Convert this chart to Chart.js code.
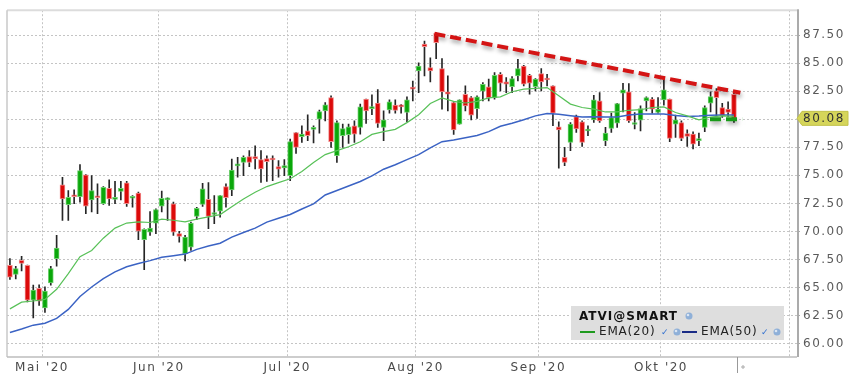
<!DOCTYPE html>
<html>
<head>
<meta charset="utf-8">
<script src="https://cdn.jsdelivr.net/npm/chart.js@4.4.1/dist/chart.umd.min.js"></script>
<style>
  html, body { margin: 0; padding: 0; background: #fff; }
</style>
</head>
<body>
<canvas id="chart" width="868" height="391"></canvas>
<script>
// ATVI@SMART daily candles, 23.04.2020 - 19.10.2020
var dates = [
  '2020-04-23','2020-04-24','2020-04-27','2020-04-28','2020-04-29','2020-04-30',
  '2020-05-01','2020-05-04','2020-05-05','2020-05-06','2020-05-07','2020-05-08','2020-05-11','2020-05-12',
  '2020-05-13','2020-05-14','2020-05-15','2020-05-18','2020-05-19','2020-05-20','2020-05-21','2020-05-22',
  '2020-05-26','2020-05-27','2020-05-28','2020-05-29',
  '2020-06-01','2020-06-02','2020-06-03','2020-06-04','2020-06-05','2020-06-08','2020-06-09','2020-06-10',
  '2020-06-11','2020-06-12','2020-06-15','2020-06-16','2020-06-17','2020-06-18','2020-06-19','2020-06-22',
  '2020-06-23','2020-06-24','2020-06-25','2020-06-26','2020-06-29','2020-06-30',
  '2020-07-01','2020-07-02','2020-07-06','2020-07-07','2020-07-08','2020-07-09','2020-07-10','2020-07-13',
  '2020-07-14','2020-07-15','2020-07-16','2020-07-17','2020-07-20','2020-07-21','2020-07-22','2020-07-23',
  '2020-07-24','2020-07-27','2020-07-28','2020-07-29','2020-07-30','2020-07-31',
  '2020-08-03','2020-08-04','2020-08-05','2020-08-06','2020-08-07','2020-08-10','2020-08-11','2020-08-12',
  '2020-08-13','2020-08-14','2020-08-17','2020-08-18','2020-08-19','2020-08-20','2020-08-21','2020-08-24',
  '2020-08-25','2020-08-26','2020-08-27','2020-08-28','2020-08-31',
  '2020-09-01','2020-09-02','2020-09-03','2020-09-04','2020-09-08','2020-09-09','2020-09-10','2020-09-11',
  '2020-09-14','2020-09-15','2020-09-16','2020-09-17','2020-09-18','2020-09-21','2020-09-22','2020-09-23',
  '2020-09-24','2020-09-25','2020-09-28','2020-09-29','2020-09-30',
  '2020-10-01','2020-10-02','2020-10-05','2020-10-06','2020-10-07','2020-10-08','2020-10-09','2020-10-12',
  '2020-10-13','2020-10-14','2020-10-15','2020-10-16','2020-10-19'
];

var open = [
  66.98,66.16,67.43,66.98,63.88,64.92,63.19,65.41,67.58,74.15,72.38,73.26,73.11,75.04,72.82,73.14,
  72.47,73.85,72.85,73.56,74.33,72.96,73.41,69.27,69.94,70.74,72.25,72.82,72.47,69.80,68.02,68.61,
  71.34,72.40,72.87,71.51,71.81,74.00,73.71,75.84,76.16,76.67,76.67,76.40,76.49,76.55,75.78,75.66,
  74.98,78.82,78.44,78.97,79.09,80.01,80.75,81.93,76.75,78.53,78.62,79.42,79.27,81.79,80.95,81.45,
  79.27,80.84,81.26,81.26,80.60,82.82,84.30,86.70,84.60,87.65,84.51,82.44,81.49,79.57,82.23,81.93,
  80.95,82.50,82.88,81.93,84.01,83.33,82.91,83.86,84.75,83.92,82.91,84.07,83.65,82.97,79.33,76.60,
  77.94,80.24,79.77,78.95,79.95,81.64,78.09,79.18,79.66,82.32,82.44,79.53,79.92,81.64,81.79,80.60,
  81.73,81.79,79.57,79.71,78.73,78.68,78.09,79.27,81.43,82.53,81.04,80.90,82.23
];
var high = [
  67.58,66.90,67.78,67.00,65.21,65.24,65.06,66.90,69.65,74.83,73.65,73.71,75.95,75.07,74.98,74.24,
  74.00,74.59,74.47,74.47,74.47,73.20,73.50,70.24,71.78,72.02,73.59,73.00,72.61,70.00,69.65,70.83,
  72.16,74.29,74.36,73.20,73.20,74.24,76.46,76.60,76.75,77.20,77.64,77.20,76.75,76.75,76.31,76.40,
  78.24,78.82,79.42,80.40,79.42,80.81,81.49,82.08,79.86,79.57,79.57,79.86,81.35,81.80,82.17,82.65,
  80.75,81.73,81.73,81.30,81.99,83.41,85.04,86.97,85.48,87.70,85.40,83.86,81.55,81.73,82.97,82.02,
  82.08,83.26,83.57,84.15,84.15,83.71,83.80,85.34,84.80,84.01,83.62,84.51,84.01,82.97,79.77,77.49,
  79.71,80.37,79.86,79.42,82.14,82.38,79.27,80.55,81.43,83.21,83.18,80.60,81.19,81.99,81.93,81.93,
  83.57,81.79,80.37,79.86,79.06,78.89,78.77,81.19,82.44,82.73,81.43,81.55,82.38
];
var low = [
  65.72,65.77,66.48,63.73,62.30,63.41,62.78,65.21,66.90,70.98,70.98,72.47,72.61,71.58,71.73,71.58,
  72.40,72.31,72.47,72.82,72.22,72.16,69.27,66.60,69.65,69.80,71.73,70.98,69.65,69.05,67.37,68.32,
  71.04,72.22,70.24,70.69,71.28,72.16,73.20,74.83,74.98,75.78,75.57,74.38,74.45,74.53,74.83,74.98,
  74.53,76.96,77.94,78.09,77.88,78.77,79.86,77.49,76.16,77.49,77.85,77.94,78.68,79.62,80.40,79.27,
  78.09,80.55,80.55,80.55,79.77,81.64,82.38,83.86,83.33,85.40,80.90,80.75,78.65,79.57,80.75,79.95,
  80.07,81.64,81.64,81.79,82.53,82.38,82.38,83.41,82.97,82.23,82.53,82.53,82.97,79.42,75.63,75.87,
  77.20,78.82,77.58,78.53,79.71,79.71,77.64,78.82,79.27,80.66,79.71,79.13,78.97,80.75,80.55,80.55,
  81.26,78.00,78.38,78.09,77.58,77.35,77.64,78.89,80.66,80.24,80.16,80.24,79.71
];
var close = [
  65.92,66.69,67.14,63.88,64.77,63.79,64.68,66.69,68.52,72.91,73.05,73.09,75.42,72.25,73.65,73.00,
  73.94,72.91,73.05,73.85,72.47,73.11,70.03,70.18,70.30,71.96,72.96,72.96,69.94,69.56,69.50,70.74,
  72.07,73.80,71.34,71.69,73.20,73.00,75.48,75.95,76.60,76.16,76.46,75.57,76.22,76.37,75.54,75.87,
  78.00,77.49,78.68,78.53,79.27,80.69,81.28,78.00,79.71,79.18,79.33,78.68,81.11,80.75,81.11,79.62,
  79.95,81.55,80.78,81.11,81.73,82.68,84.75,86.46,84.30,86.82,82.44,82.23,79.06,81.73,81.19,80.37,
  81.99,83.12,81.93,83.92,83.21,83.12,83.62,84.51,83.12,83.21,83.57,83.33,83.50,80.55,79.06,76.16,
  79.57,79.13,77.94,79.06,81.73,79.86,78.77,80.16,81.40,82.62,79.86,79.71,80.95,81.93,80.90,80.90,
  82.62,78.29,79.95,78.29,78.47,77.79,78.24,81.04,82.02,81.93,80.31,80.60,80.08
];

// indicator lines, read every 2nd session (session 0, 2, 4, ...)
var emaStep = 2;
var ema20 = [
  63.10,63.70,63.80,63.95,64.85,66.25,67.75,68.30,69.40,70.30,70.75,70.85,70.80,71.10,71.00,70.85,
  71.10,71.30,71.50,72.20,72.90,73.50,74.00,74.35,74.70,75.35,76.15,76.85,77.20,77.55,78.00,78.65,
  78.90,79.10,79.70,80.40,81.40,81.90,81.60,81.45,81.60,81.90,82.00,82.45,82.68,82.75,82.82,82.10,
  81.35,81.05,80.90,80.65,80.65,80.80,80.85,81.05,81.10,80.60,80.30,79.95,80.20,80.30,80.25
];
var ema50 = [
  61.00,61.30,61.65,61.82,62.25,63.05,64.20,65.05,65.80,66.40,66.85,67.14,67.40,67.70,67.83,67.98,
  68.40,68.70,68.95,69.50,69.90,70.30,70.83,71.17,71.51,72.00,72.46,73.25,73.65,74.05,74.45,74.95,
  75.55,75.95,76.40,76.85,77.45,78.00,78.15,78.35,78.55,78.90,79.38,79.65,79.95,80.30,80.52,80.45,
  80.32,80.20,80.22,80.20,80.20,80.38,80.46,80.46,80.46,80.33,80.25,80.28,80.35,80.37,80.37
];

// drawn trend lines: [session, price]
var trendRed = [[72.7, 87.62], [125.1, 82.37]];
var trendGreen = [[119.9, 80.0], [125.4, 80.0]];

// axis ticks
var monthTicks = [5.5, 25.5, 47.5, 69.5, 90.5, 111.5, 133.5];
var monthLabels = ["Mai '20", "Jun '20", "Jul '20", "Aug '20", "Sep '20", "Okt '20", ""];
var priceTicks = [60, 62.5, 65, 67.5, 70, 72.5, 75, 77.5, 80, 82.5, 85, 87.5];

var upColor = '#0aa70a', downColor = '#dc0a0a';
var upBorder = '#6fd06f', downBorder = '#f08a8a';

var wicks = dates.map(function (d, i) { return { x: i, y: [low[i], high[i]] }; });
var bodies = dates.map(function (d, i) { return { x: i, y: [open[i], close[i]] }; });
var bodyFill = dates.map(function (d, i) { return close[i] >= open[i] ? upColor : downColor; });
var bodyEdge = dates.map(function (d, i) { return close[i] >= open[i] ? upBorder : downBorder; });

Chart.defaults.font.family = "'DejaVu Sans', sans-serif";
Chart.defaults.font.size = 12;
Chart.defaults.color = '#5a5a5a';

// shadow under the hand drawn trend lines
var shadowPlugin = {
  id: 'shadow',
  beforeDatasetDraw: function (chart, args) {
    var ctx = chart.ctx;
    ctx.save();
    if (chart.data.datasets[args.index].shadow) {
      ctx.shadowColor = 'rgba(0,0,0,0.35)';
      ctx.shadowBlur = 4;
      ctx.shadowOffsetX = 1;
      ctx.shadowOffsetY = 3;
    }
  },
  afterDatasetDraw: function (chart) {
    chart.ctx.restore();
  }
};

var framePlugin = {
  id: 'frame',
  beforeDraw: function (chart) {
    chart.ctx.letterSpacing = '1.5px';
  },
  beforeDatasetsDraw: function (chart) {
    var ctx = chart.ctx, a = chart.chartArea;
    ctx.save();
    ctx.lineWidth = 2;
    ctx.strokeStyle = '#dcdcdc';
    ctx.beginPath(); ctx.moveTo(a.left, a.top); ctx.lineTo(a.right, a.top); ctx.stroke();
    ctx.lineWidth = 1.5;
    ctx.strokeStyle = '#c8c8c8';
    ctx.beginPath(); ctx.moveTo(a.left, a.top); ctx.lineTo(a.left, a.bottom); ctx.stroke();
    ctx.strokeStyle = '#bdbdbd';
    ctx.beginPath(); ctx.moveTo(a.left, a.bottom); ctx.lineTo(a.right, a.bottom); ctx.stroke();
    ctx.lineWidth = 2;
    ctx.strokeStyle = '#ababab';
    ctx.beginPath(); ctx.moveTo(a.right + 1, a.top - 1); ctx.lineTo(a.right + 1, a.bottom); ctx.stroke();
    ctx.restore();
  },
  afterDraw: function (chart) {
    var ctx = chart.ctx, a = chart.chartArea;
    var xs = chart.scales.x, ys = chart.scales.y;
    ctx.save();

    // end-of-data marker below the time axis
    var ex = Math.round(xs.getPixelForValue(dates.length - 0.5)) + 0.5;
    ctx.strokeStyle = '#999';
    ctx.lineWidth = 1;
    ctx.beginPath(); ctx.moveTo(ex, a.bottom); ctx.lineTo(ex, a.bottom + 16); ctx.stroke();
    ctx.strokeStyle = '#aaa';
    ctx.beginPath();
    ctx.moveTo(ex + 3.5, a.bottom + 10); ctx.lineTo(ex + 7.5, a.bottom + 10);
    ctx.moveTo(ex + 5.5, a.bottom + 8); ctx.lineTo(ex + 5.5, a.bottom + 12);
    ctx.stroke();

    // last price flag
    var last = close[close.length - 1];
    var py = ys.getPixelForValue(last);
    ctx.fillStyle = '#d5d55a';
    ctx.strokeStyle = '#c2c24a';
    ctx.beginPath();
    ctx.moveTo(a.right, py);
    ctx.lineTo(a.right + 5, py - 7);
    ctx.lineTo(a.right + 51, py - 7);
    ctx.lineTo(a.right + 51, py + 7);
    ctx.lineTo(a.right + 5, py + 7);
    ctx.closePath();
    ctx.fill();
    ctx.stroke();
    ctx.fillStyle = '#333';
    ctx.font = "12px 'DejaVu Sans'";
    ctx.textBaseline = 'middle';
    ctx.textAlign = 'left';
    ctx.letterSpacing = '1.5px';
    ctx.fillText(last.toFixed(2), a.right + 6, py + 1);

    // legend box
    ctx.fillStyle = '#dedede';
    ctx.fillRect(571, 306, 213, 34);
    ctx.letterSpacing = '1px';
    ctx.fillStyle = '#111';
    ctx.font = "bold 12px 'DejaVu Sans'";
    ctx.fillText('ATVI@SMART', 579, 317);
    var icon = function (x, y) {
      ctx.fillStyle = '#8fb0d8';
      ctx.beginPath(); ctx.arc(x, y, 3.5, 0, Math.PI * 2); ctx.fill();
      ctx.fillStyle = '#dbe6f3';
      ctx.beginPath(); ctx.arc(x - 1, y - 1, 1.3, 0, Math.PI * 2); ctx.fill();
    };
    icon(689, 316);
    ctx.lineWidth = 2;
    ctx.strokeStyle = '#1e9a1e';
    ctx.beginPath(); ctx.moveTo(580, 332); ctx.lineTo(595, 332); ctx.stroke();
    ctx.strokeStyle = '#1a2c86';
    ctx.beginPath(); ctx.moveTo(682, 332); ctx.lineTo(697, 332); ctx.stroke();
    ctx.font = "12px 'DejaVu Sans'";
    ctx.fillStyle = '#222';
    ctx.letterSpacing = '0.8px';
    ctx.fillText('EMA(20)', 599, 332);
    ctx.fillText('EMA(50)', 701, 332);
    ctx.fillStyle = '#2f6fd0';
    ctx.font = "9px 'DejaVu Sans'";
    ctx.letterSpacing = '0px';
    ctx.fillText('\u2713', 661, 333);
    ctx.fillText('\u2713', 761, 333);
    icon(677, 332);
    icon(777, 332);
    ctx.restore();
  }
};

var ctx = document.getElementById('chart').getContext('2d');
var chart = new Chart(ctx, {
  type: 'bar',
  data: {
    datasets: [
      {
        type: 'line', label: 'trend', data: trendRed.map(function (p) { return { x: p[0], y: p[1] }; }),
        borderColor: '#d41414', borderWidth: 4, borderDash: [11, 5], pointRadius: 0, shadow: true, order: 0
      },
      {
        type: 'line', label: 'support', data: trendGreen.map(function (p) { return { x: p[0], y: p[1] }; }),
        borderColor: '#189a18', borderWidth: 4, borderDash: [11, 5], pointRadius: 0, shadow: true, order: 0
      },
      {
        type: 'line', label: 'EMA(20)', data: ema20.map(function (v, k) { return { x: k * emaStep, y: v }; }),
        borderColor: '#58c158', borderWidth: 1.2, pointRadius: 0, tension: 0, order: 1
      },
      {
        type: 'line', label: 'EMA(50)', data: ema50.map(function (v, k) { return { x: k * emaStep, y: v }; }),
        borderColor: '#3b63c4', borderWidth: 1.5, pointRadius: 0, tension: 0, order: 1
      },
      {
        label: 'body', data: bodies, backgroundColor: bodyFill, borderColor: bodyEdge,
        borderWidth: 1, borderSkipped: false, barThickness: 5, minBarLength: 2, grouped: false, order: 2
      },
      {
        label: 'wick', data: wicks, backgroundColor: '#262626', borderWidth: 0,
        barThickness: 1, grouped: false, order: 3
      }
    ]
  },
  options: {
    responsive: false,
    animation: false,
    events: [],
    layout: { padding: { left: 7, top: 9, right: 0, bottom: 0 } },
    plugins: {
      legend: { display: false },
      tooltip: { enabled: false }
    },
    scales: {
      x: {
        type: 'linear',
        offset: false,
        min: -0.5,
        max: 134.8,
        afterFit: function (s) { s.height = 34; },
        afterBuildTicks: function (s) { s.ticks = monthTicks.map(function (v) { return { value: v }; }); },
        grid: { color: '#c4c4c4', lineWidth: 1, drawTicks: false, offset: false },
        border: { display: false, dash: [2, 2] },
        ticks: {
          autoSkip: false, maxRotation: 0, padding: 4, color: '#4a4a4a',
          callback: function (v, i) { return monthLabels[i]; }
        }
      },
      y: {
        position: 'right',
        min: 58.81,
        max: 89.72,
        afterFit: function (s) { s.width = 71; },
        afterBuildTicks: function (s) { s.ticks = priceTicks.map(function (v) { return { value: v }; }); },
        grid: { color: '#c4c4c4', lineWidth: 1, drawTicks: true, tickLength: 3, tickColor: '#aaa' },
        border: { display: false, dash: [2, 2] },
        ticks: {
          padding: 3, color: '#5a5a5a',
          callback: function (v) { return v.toFixed(2); }
        }
      }
    }
  },
  plugins: [shadowPlugin, framePlugin]
});
</script>
</body>
</html>
